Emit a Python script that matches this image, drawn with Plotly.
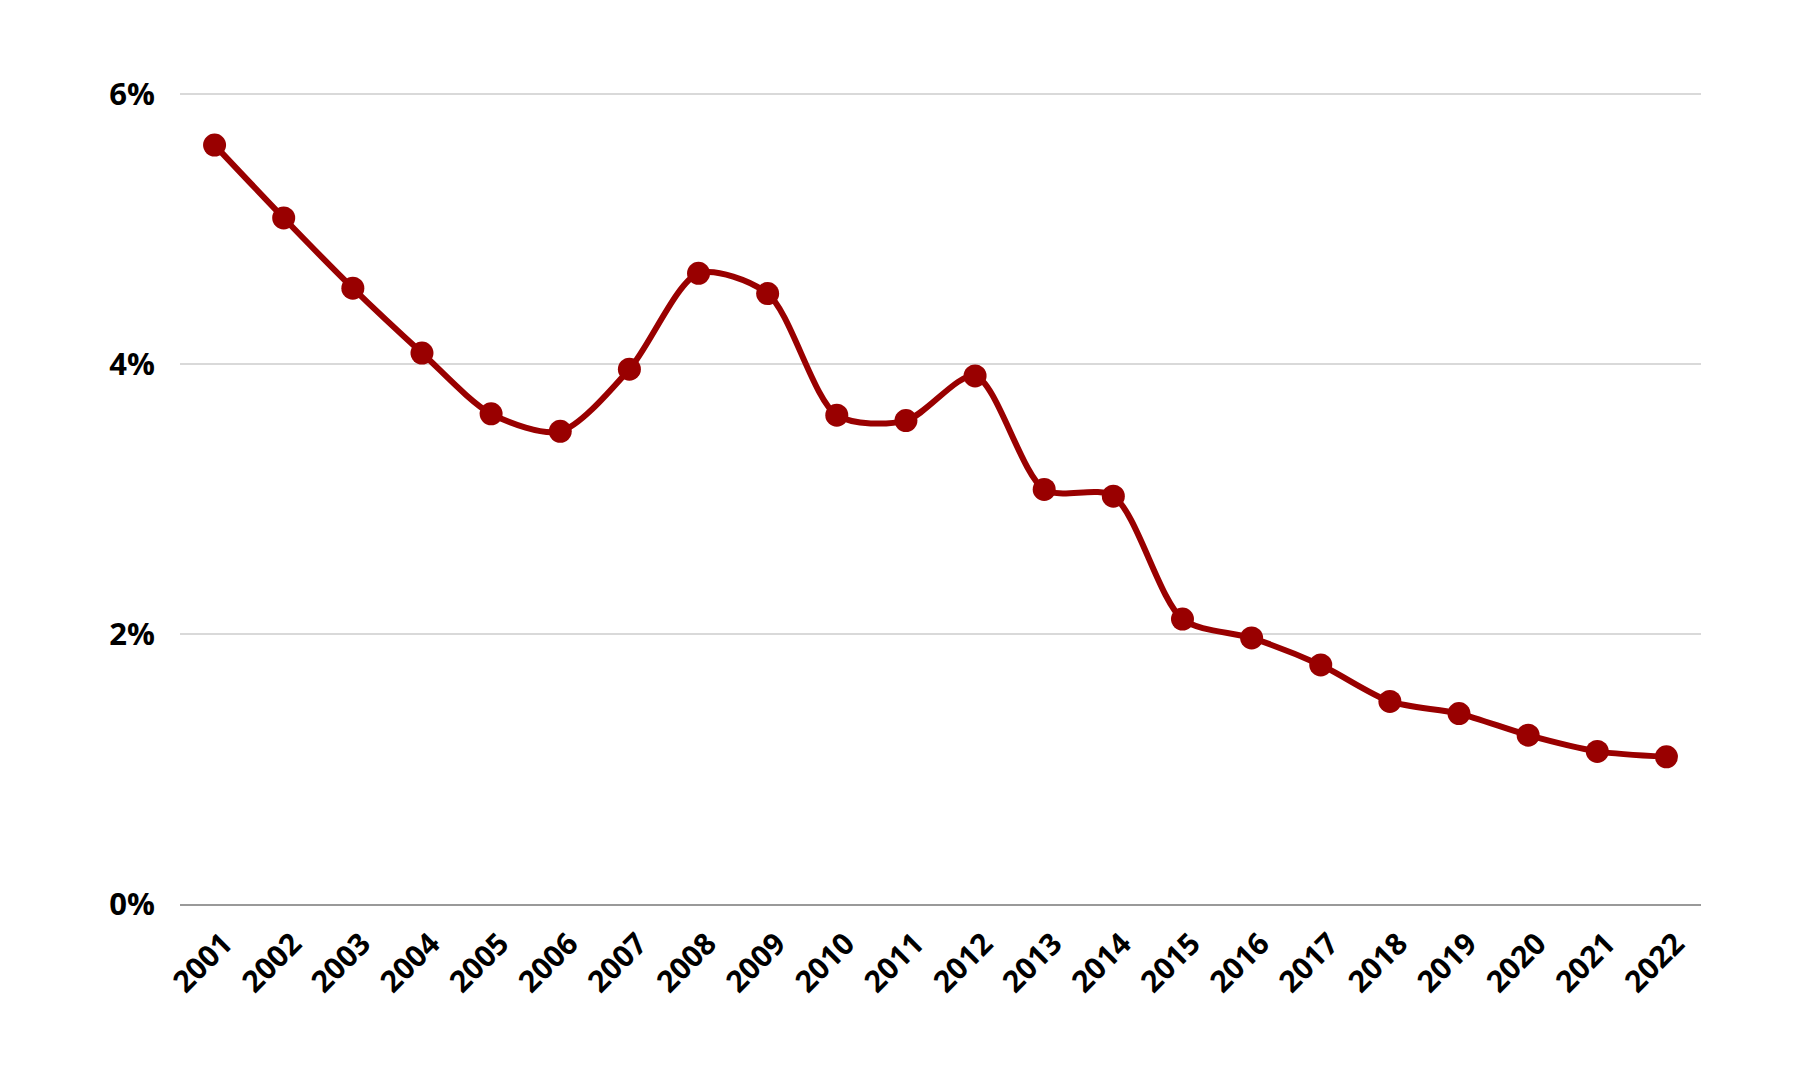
import plotly.graph_objects as go

# data
years = [str(y) for y in range(2001, 2023)]
rate = [5.62, 5.08, 4.56, 4.08, 3.63, 3.50, 3.96, 4.67, 4.52, 3.62, 3.58,
        3.91, 3.07, 3.02, 2.11, 1.97, 1.77, 1.50, 1.41, 1.25, 1.13, 1.09]
y_ticks = [0, 2, 4, 6]
y_tick_text = ["0%", "2%", "4%", "6%"]

line_color = "#990000"
font_family = "Open Sans"

fig = go.Figure()

fig.add_trace(go.Scatter(
    x=years,
    y=rate,
    mode="lines+markers",
    line=dict(color=line_color, width=6, shape="spline", smoothing=0.8),
    marker=dict(color=line_color, size=23),
    showlegend=False,
    cliponaxis=False,
))

fig.update_layout(
    width=1800,
    height=1080,
    # the page adds an 8px body margin, so these are shifted by 8px
    margin=dict(l=172, r=107, t=79, b=184),
    paper_bgcolor="white",
    plot_bgcolor="white",
    font=dict(family=font_family, color="black"),
)

fig.update_xaxes(
    type="category",
    range=[-0.5, len(years) - 0.5],
    tickangle=-45,
    tickfont=dict(family=font_family, size=30, weight="bold"),
    showgrid=False,
    showline=True,
    linecolor="#999999",
    linewidth=2,
    ticks="",
    ticklabelstandoff=8,
    ticklabelshift=9,
    automargin=False,
)

fig.update_yaxes(
    range=[0, 6.05],
    tickvals=y_ticks,
    ticktext=y_tick_text,
    tickfont=dict(family=font_family, size=31, weight="bold"),
    showgrid=True,
    gridcolor="#d9d9d9",
    gridwidth=1.5,
    zeroline=False,
    showline=False,
    ticks="",
    ticklabelstandoff=24,
    automargin=False,
)

fig.write_html("out.html")
